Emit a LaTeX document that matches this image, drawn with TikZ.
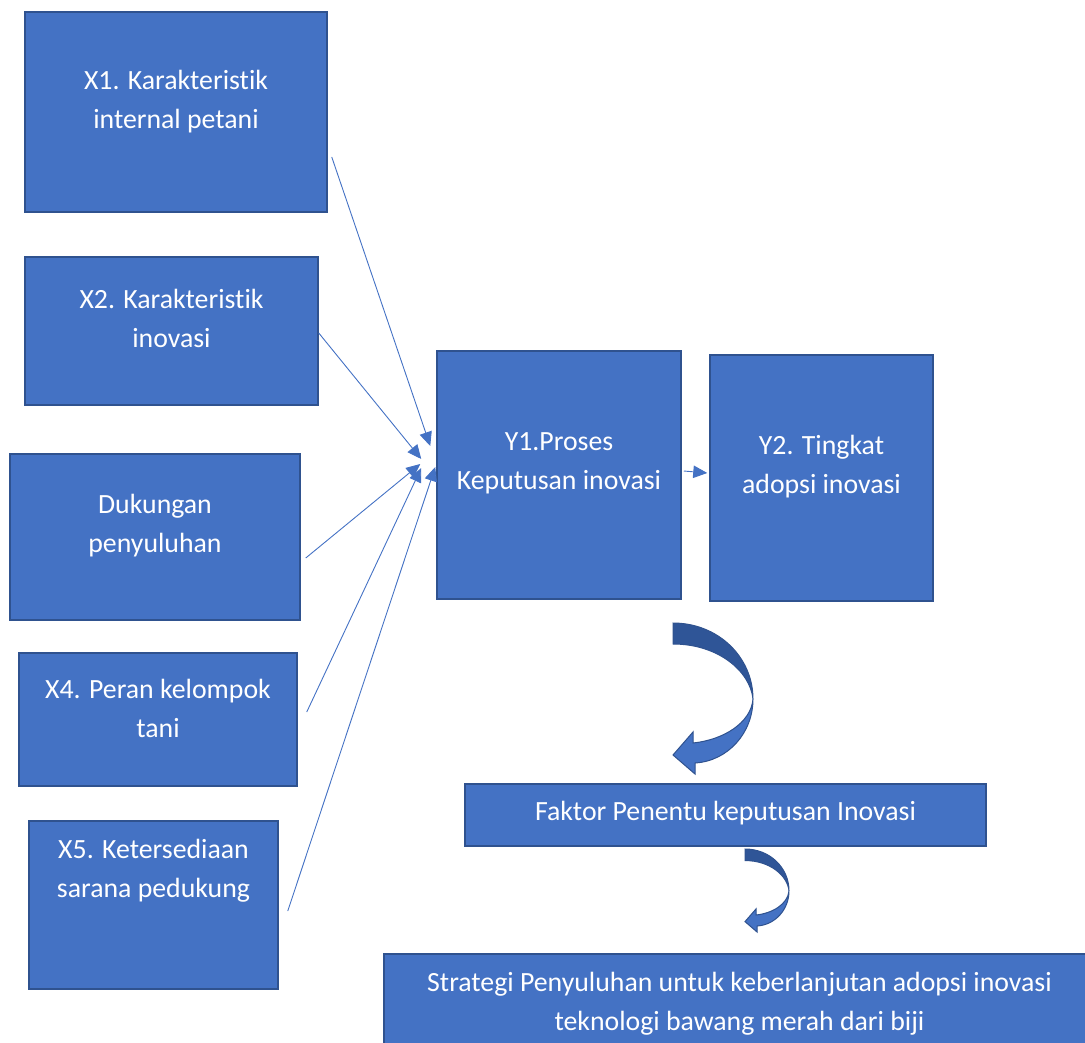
\documentclass[tikz,border=0pt]{standalone}
\usepackage{fontspec}
\setmainfont{Carlito}[Ligatures=NoCommon]
\usepackage{xcolor}
\usetikzlibrary{arrows.meta}
\definecolor{boxblue}{HTML}{4472C4}
\definecolor{edgeblue}{HTML}{2F528F}
\definecolor{foldblue}{HTML}{2F5597}

\begin{document}
\begin{tikzpicture}[x=1pt,y=-1pt]%
  \tikzstyle{boxv}=[rectangle,draw=edgeblue,fill=boxblue,line width=1.5pt,inner sep=0]
  \tikzstyle{txtv}=[text=white,align=center,font=\fontsize{27.8}{39}\selectfont]
  \tikzstyle{arrn}=[draw=boxblue,line width=0.9pt,-{Triangle[length=14pt,width=12.5pt]}]
  \tikzset{bendarr/.pic={
    \filldraw[fill=foldblue,draw=edgeblue,line width=1pt] (0,0) .. controls (45,0) and (80,34) .. (80,76)
      .. controls (77,48) and (45,21) .. (0,21) -- cycle;
    \filldraw[fill=boxblue,draw=edgeblue,line width=1pt] (80,76) .. controls (80,110) and (55,138) .. (22,140)
      -- (22,151) -- (0,132) -- (20,109) -- (20,120) .. controls (50,117) and (78,100) .. (80,76) -- cycle;}}
  \clip (0,0) rectangle (1085,1043);
  % left column
  \node(x1)[boxv,minimum width=302,minimum height=200] at (176,112) {};
  \node(x2)[boxv,minimum width=293,minimum height=148] at (171.5,331) {};
  \node(x3)[boxv,minimum width=290,minimum height=166] at (155,537) {};
  \node(x4)[boxv,minimum width=278,minimum height=133] at (158,719.5) {};
  \node(x5)[boxv,minimum width=249,minimum height=168] at (153.5,905) {};
  \node(x1t)[txtv] at ([yshift=10]x1.center) {X1. Karakteristik\\internal petani};
  \node(x2t)[txtv] at ([yshift=12.5]x2.center) {X2. Karakteristik\\inovasi};
  \node(x3t)[txtv] at ([yshift=11.5]x3.center) {Dukungan\\penyuluhan};
  \node(x4t)[txtv] at ([yshift=11.5]x4.center) {X4. Peran kelompok\\tani};
  \node(x5t)[txtv] at ([yshift=34]x5.center) {X5. Ketersediaan\\sarana pedukung};
  % right part
  \node(y1)[boxv,minimum width=244,minimum height=248] at (559,475) {};
  \node(y2)[boxv,minimum width=223,minimum height=246] at (821.5,478) {};
  \node(y1t)[txtv] at ([yshift=12]y1.center) {Y1.Proses\\Keputusan inovasi};
  \node(y2t)[txtv] at ([yshift=11.5]y2.center) {Y2. Tingkat\\adopsi inovasi};
  \node(fk)[boxv,minimum width=521,minimum height=62] at (725.5,815) {};
  \node(fkt)[txtv] at ([yshift=2]fk.center) {Faktor Penentu keputusan Inovasi};
  \node(st)[boxv,minimum width=711,minimum height=106] at (739.5,1007) {};
  \node(stt)[txtv] at ([yshift=3]st.center) {Strategi Penyuluhan untuk keberlanjutan adopsi inovasi\\teknologi bawang merah dari biji};
  % connectors
  \draw[arrn] ([shift={(4,45)}]x1.east) -- ([shift={(-6,-29)}]y1.west);
  \draw[arrn] ([shift={(0,2)}]x2.east) -- ([shift={(-15,-16)}]y1.west);
  \draw[arrn] ([shift={(5,21)}]x3.east) -- ([shift={(-16,-11)}]y1.west);
  \draw[arrn] ([shift={(9,-7.5)}]x4.east) -- ([shift={(-15,-7)}]y1.west);
  \draw[arrn] ([shift={(9,6)}]x5.east) -- ([shift={(-1,-8)}]y1.west);
  \draw[arrn] ([shift={(2,-4)}]y1.east) -- ([shift={(-2,-5)}]y2.west);
  \pic at (673,623) {bendarr};
  \pic[scale=0.55] at (745,849) {bendarr};
\end{tikzpicture}
\end{document}
